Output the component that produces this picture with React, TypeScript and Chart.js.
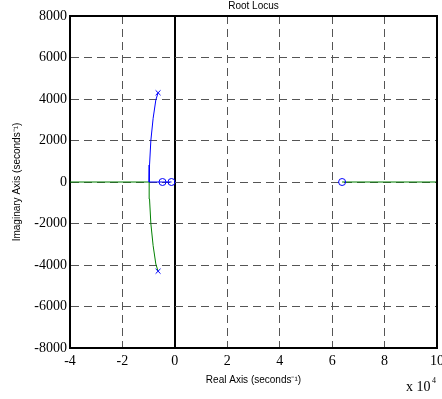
import React, { useEffect, useRef } from 'react';
import { Chart, registerables } from 'chart.js';

Chart.register(...registerables);

// ---- data (real part in seconds^-1, imaginary part in seconds^-1) ----
const upperBranchRe = [-6400, -7260, -8290, -9160, -9660, -9800, -4710, -1290];
const upperBranchIm = [4300, 3950, 3070, 2000, 820, 0, 0, 0];
const lowerBranchRe = [-6400, -7260, -8290, -9160, -9660, -9800, -40000];
const lowerBranchIm = [-4300, -3950, -3070, -2000, -820, 0, 0];
const rightBranchRe = [63800, 100000];
const rightBranchIm = [0, 0];
const polesRe = [-6400, -6400];
const polesIm = [4300, -4300];
const zerosRe = [-4710, -1290, 63800];
const zerosIm = [0, 0, 0];

const xMin = -40000;
const xMax = 100000;
const xStep = 20000;
const yMin = -8000;
const yMax = 8000;
const yStep = 2000;
const xExponent = 4;

const titleText = 'Root Locus';
const xTitle = 'Real Axis (seconds\u207B\u00B9)';
const yTitle = 'Imaginary Axis (seconds\u207B\u00B9)';

const zip = (xs: number[], ys: number[]) => xs.map((x, i) => ({ x, y: ys[i] }));

const BLUE = '#0000ff';
const GREEN = '#008000';
const GRID = '#555555';
const SERIF = '"Liberation Serif", "Times New Roman", serif';
const SANS = '"Liberation Sans", Arial, sans-serif';

const framePlugin = {
  id: 'frame',
  afterDraw(chart: any) {
    const { ctx, chartArea: a } = chart;
    ctx.save();
    ctx.strokeStyle = '#000';
    ctx.lineWidth = 2;
    ctx.beginPath();
    ctx.moveTo(a.left, a.top);
    ctx.lineTo(a.right, a.top);
    ctx.lineTo(a.right, a.bottom);
    ctx.stroke();
    ctx.fillStyle = '#000';
    ctx.textAlign = 'left';
    ctx.textBaseline = 'alphabetic';
    ctx.font = '14px ' + SERIF;
    ctx.fillText('x 10', a.right - 31, a.bottom + 43);
    ctx.font = '8px ' + SERIF;
    ctx.fillText(String(xExponent), a.right - 5, a.bottom + 35);
    ctx.restore();
  },
};

export default function App() {
  const canvasRef = useRef<HTMLCanvasElement | null>(null);

  useEffect(() => {
    if (!canvasRef.current) return;
    const chart = new Chart(canvasRef.current, {
      type: 'scatter',
      data: {
        datasets: [
          {
            label: 'poles',
            data: zip(polesRe, polesIm),
            showLine: false,
            pointStyle: 'crossRot',
            pointRadius: 3.5,
            borderColor: BLUE,
            backgroundColor: BLUE,
            pointBorderWidth: 1,
            order: 0,
          },
          {
            label: 'zeros',
            data: zip(zerosRe, zerosIm),
            showLine: false,
            pointStyle: 'circle',
            pointRadius: 3.5,
            borderColor: BLUE,
            backgroundColor: 'rgba(0,0,0,0)',
            pointBorderWidth: 1,
            order: 1,
          },
          {
            label: 'branch1',
            data: zip(upperBranchRe, upperBranchIm),
            showLine: true,
            borderColor: BLUE,
            borderWidth: 1,
            pointRadius: 0,
            tension: 0,
            order: 2,
          },
          {
            label: 'branch2',
            data: zip(lowerBranchRe, lowerBranchIm),
            showLine: true,
            borderColor: GREEN,
            borderWidth: 1,
            pointRadius: 0,
            tension: 0,
            order: 3,
          },
          {
            label: 'branch3',
            data: zip(rightBranchRe, rightBranchIm),
            showLine: true,
            borderColor: GREEN,
            borderWidth: 1,
            pointRadius: 0,
            tension: 0,
            order: 4,
          },
        ],
      },
      options: {
        animation: false,
        responsive: false,
        events: [],
        layout: { padding: { left: 0, top: 0, right: 4, bottom: 0 } },
        plugins: {
          legend: { display: false },
          tooltip: { enabled: false },
          title: {
            display: true,
            text: titleText,
            fullSize: false,
            color: '#000',
            font: { family: SANS, size: 10, weight: 'normal' },
            padding: { top: 0, bottom: 4 },
          },
        },
        scales: {
          x: {
            type: 'linear',
            min: xMin,
            max: xMax,
            afterFit: (s: any) => {
              s.height = 51;
              s.paddingLeft = 0;
              s.paddingRight = 0;
            },
            ticks: {
              stepSize: xStep,
              autoSkip: false,
              maxRotation: 0,
              padding: 5,
              color: '#000',
              font: { family: SERIF, size: 14 },
              callback: (v: any) => String(Number(v) / Math.pow(10, xExponent)),
            },
            grid: {
              drawTicks: false,
              color: (c: any) => (c.tick && c.tick.value === 0 ? '#000' : GRID),
              lineWidth: (c: any) => (c.tick && c.tick.value === 0 ? 2 : 1),
            },
            border: {
              display: true,
              color: '#000',
              width: 2,
              dash: (c: any) => (c.tick && c.tick.value === 0 ? [] : [8, 5]),
            },
            title: {
              display: true,
              text: xTitle,
              color: '#000',
              font: { family: SANS, size: 10 },
              padding: { top: 0, bottom: 13 },
            },
          },
          y: {
            type: 'linear',
            min: yMin,
            max: yMax,
            afterFit: (s: any) => {
              s.width = 70;
              s.paddingTop = 0;
              s.paddingBottom = 0;
            },
            ticks: {
              stepSize: yStep,
              autoSkip: false,
              padding: 3,
              color: '#000',
              font: { family: SERIF, size: 14 },
              callback: (v: any) => String(v),
            },
            grid: {
              drawTicks: false,
              color: GRID,
              lineWidth: 1,
            },
            border: {
              display: true,
              color: '#000',
              width: 2,
              dash: [8, 5],
            },
            title: {
              display: true,
              text: yTitle,
              color: '#000',
              font: { family: SANS, size: 10 },
              padding: { top: 11, bottom: 0 },
            },
          },
        },
      },
      plugins: [framePlugin],
    } as any);
    return () => chart.destroy();
  }, []);

  return (
    <div style={{ position: 'fixed', left: 0, top: 0, width: 442, height: 399, background: '#fff' }}>
      <canvas ref={canvasRef} width={442} height={399} style={{ display: 'block' }} />
    </div>
  );
}
